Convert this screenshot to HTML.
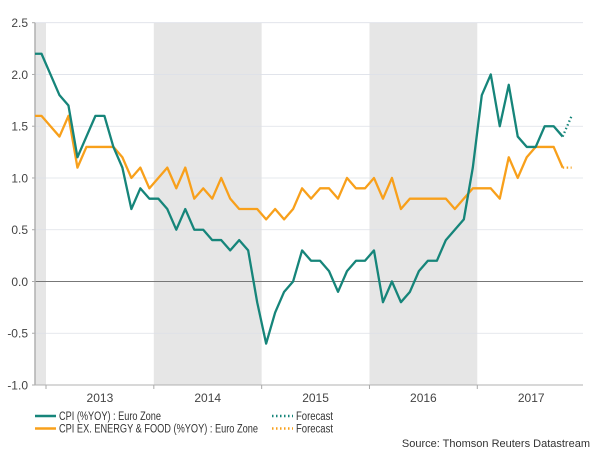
<!DOCTYPE html>
<html><head><meta charset="utf-8"><style>
body{margin:0;background:#fff;width:600px;height:450px;overflow:hidden}
svg{font-family:"Liberation Sans",sans-serif}
</style></head><body>
<svg id="chart" width="600" height="450"></svg>
<script>
const months=["2012-11","2012-12","2013-01","2013-02","2013-03","2013-04","2013-05","2013-06","2013-07","2013-08","2013-09","2013-10","2013-11","2013-12","2014-01","2014-02","2014-03","2014-04","2014-05","2014-06","2014-07","2014-08","2014-09","2014-10","2014-11","2014-12","2015-01","2015-02","2015-03","2015-04","2015-05","2015-06","2015-07","2015-08","2015-09","2015-10","2015-11","2015-12","2016-01","2016-02","2016-03","2016-04","2016-05","2016-06","2016-07","2016-08","2016-09","2016-10","2016-11","2016-12","2017-01","2017-02","2017-03","2017-04","2017-05","2017-06","2017-07","2017-08","2017-09","2017-10"];
const cpi=[2.2,2.2,2.0,1.8,1.7,1.2,1.4,1.6,1.6,1.3,1.1,0.7,0.9,0.8,0.8,0.7,0.5,0.7,0.5,0.5,0.4,0.4,0.3,0.4,0.3,-0.2,-0.6,-0.3,-0.1,0.0,0.3,0.2,0.2,0.1,-0.1,0.1,0.2,0.2,0.3,-0.2,0.0,-0.2,-0.1,0.1,0.2,0.2,0.4,0.5,0.6,1.1,1.8,2.0,1.5,1.9,1.4,1.3,1.3,1.5,1.5,1.4];
const core=[1.6,1.6,1.5,1.4,1.6,1.1,1.3,1.3,1.3,1.3,1.2,1.0,1.1,0.9,1.0,1.1,0.9,1.1,0.8,0.9,0.8,1.0,0.8,0.7,0.7,0.7,0.6,0.7,0.6,0.7,0.9,0.8,0.9,0.9,0.8,1.0,0.9,0.9,1.0,0.8,1.0,0.7,0.8,0.8,0.8,0.8,0.8,0.7,0.8,0.9,0.9,0.9,0.8,1.2,1.0,1.2,1.3,1.3,1.3,1.1];
const cpiForecast=[1.4,1.6];
const coreForecast=[1.1,1.1];
const yTicks=[2.5,2.0,1.5,1.0,0.5,0.0,-0.5,-1.0];
const years=["2013","2014","2015","2016","2017"];
const shaded=[["2012-10","2013-01"],["2014-01","2015-01"],["2016-01","2017-01"]];

const L=35,R=583,T=22.7,B=385;
const monthW=(477.3-46)/48;
function idx(m){const [y,mo]=m.split('-').map(Number);return (y-2013)*12+(mo-1);}
function xStart(m){return 46+idx(m)*monthW;}
function xMid(m){return xStart(m)+monthW/2;}
function xi(i){return xMid(months[0])+i*monthW;}
function y(v){return B-(v+1)*(B-T)/3.5;}
const NS="http://www.w3.org/2000/svg";
const svg=document.getElementById('chart');
function el(t,a,p){const e=document.createElementNS(NS,t);for(const k in a)e.setAttribute(k,a[k]);(p||svg).appendChild(e);return e;}
const defs=el('defs',{});const cp=el('clipPath',{id:'c'},defs);el('rect',{x:L,y:T-5,width:R-L,height:B-T+5},cp);
shaded.forEach((s,i)=>{const x1=Math.max(L,xStart(s[0])),x2=xStart(s[1]);
const r=el('rect',{x:x1,y:T,width:x2-x1,height:B-T,fill:'#e6e6e6'});

});
yTicks.forEach(v=>{
 const g=el('line',{x1:L,x2:R,y1:y(v),y2:y(v),stroke:v===0?'#777':'#dde0e8','stroke-width':v===0?1:0.8});
 
 
 el('line',{x1:L-3,x2:L,y1:y(v),y2:y(v),stroke:'#aaa'});
 const t=el('text',{x:L-7,y:y(v)+4.5,'text-anchor':'end','font-size':12,fill:'#444'});t.textContent=v.toFixed(1);
 
 
});
el('line',{x1:L,x2:L,y1:T,y2:B,stroke:'#b0b0b0','stroke-width':1.5});
el('line',{x1:L,x2:R,y1:B,y2:B,stroke:'#b0b0b0','stroke-width':1});
years.forEach((yr,i)=>{const x0=xStart(yr+'-01');
 el('line',{x1:x0,x2:x0,y1:B,y2:B+4,stroke:'#aaa'});
 const t=el('text',{x:x0+6*monthW,y:B+17,'text-anchor':'middle','font-size':12,fill:'#444'});t.textContent=yr;
 
 
});
function line(vals,offset,color,name,dash){
 const p=el('polyline',{points:vals.map((v,i)=>xi(i+offset)+','+y(v)).join(' '),fill:'none',stroke:color,'stroke-width':2.3,'stroke-linejoin':'round','clip-path':'url(#c)'});
 if(dash)p.setAttribute('stroke-dasharray','1.5 2.5');
 
 
}
const teal='#16857a',orange='#f8a01b';
line(core,0,orange,'core-cpi-line');
line(cpi,0,teal,'cpi-line');
line(cpiForecast,months.length-1,teal,'cpi-forecast-line',true);
line(coreForecast,months.length-1,orange,'core-forecast-line',true);
function legend(yy,color,label,dash,x0,name,len){
 const l=el('line',{x1:x0,x2:x0+21,y1:yy,y2:yy,stroke:color,'stroke-width':2.5});
 if(dash)l.setAttribute('stroke-dasharray','1.5 2.5');
 const t=el('text',{x:x0+24,y:yy+4,'font-size':11.5,fill:'#333',textLength:len,lengthAdjust:'spacingAndGlyphs'});t.textContent=label;
 
 
}
legend(416,teal,'CPI (%YOY) : Euro Zone',false,35,'legend-cpi',102);
legend(428.5,orange,'CPI EX. ENERGY & FOOD (%YOY) : Euro Zone',false,35,'legend-core',199);
legend(416,teal,'Forecast',true,272,'legend-cpi-forecast',37);
legend(428.5,orange,'Forecast',true,272,'legend-core-forecast',37);
const s=el('text',{x:590,y:447,'text-anchor':'end','font-size':11,fill:'#333'});s.textContent='Source: Thomson Reuters Datastream';


</script>
</body></html>
